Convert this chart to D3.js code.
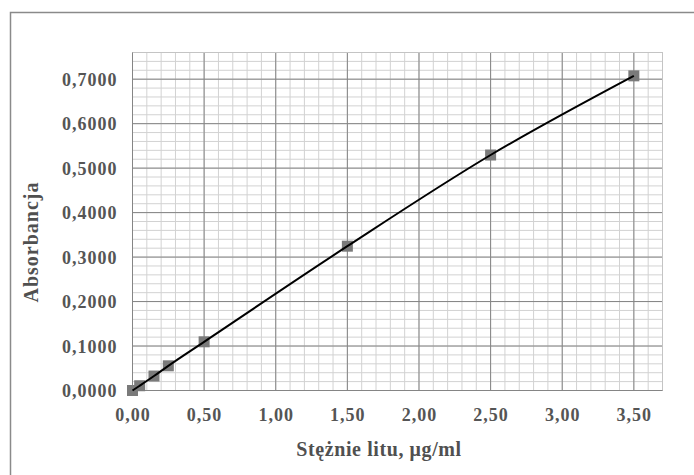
<!DOCTYPE html>
<html>
<head>
<meta charset="utf-8">
<script src="https://cdn.jsdelivr.net/npm/d3@7"></script>
<style>
  body { margin: 0; background: #fff; }
  text { font-family: "Liberation Serif", "Times New Roman", serif; }
</style>
</head>
<body>
<div id="chart"></div>
<script>
// Calibration points
var concentration = [0, 0.05, 0.15, 0.25, 0.5, 1.5, 2.5, 3.5];
var absorbance = [0, 0.0107, 0.0325, 0.0555, 0.1095, 0.3245, 0.5295, 0.7075];
var xTicks = [0, 0.5, 1, 1.5, 2, 2.5, 3, 3.5];
var yTicks = [0, 0.1, 0.2, 0.3, 0.4, 0.5, 0.6, 0.7];

var svgWidth = 694;
var svgHeight = 475;
var margin = { top: 52.5, left: 132.5, right: 31.5, bottom: 84.5 };
var width = svgWidth - margin.left - margin.right;
var height = svgHeight - margin.top - margin.bottom;

var svg = d3.select("#chart")
    .append("svg")
    .attr("width", svgWidth)
    .attr("height", svgHeight);

// outer frame
svg.append("rect")
    .attr("x", 10.5)
    .attr("y", 12.5)
    .attr("width", 720)
    .attr("height", 520)
    .attr("fill", "none")
    .attr("stroke", "#8a8a8a")
    .attr("stroke-width", 1.5);

var chartGroup = svg.append("g")
    .attr("transform", `translate(${margin.left}, ${margin.top})`);

var x = d3.scaleLinear().domain([0, 3.7]).range([0, width]);
var y = d3.scaleLinear().domain([0, 0.76]).range([height, 0]);

// minor grid
var minorX = d3.range(0, 38).map(i => i / 10);
var minorY = d3.range(0, 39).map(i => i / 50);
chartGroup.append("g").selectAll("line")
    .data(minorX)
    .enter().append("line")
    .attr("x1", d => x(d)).attr("x2", d => x(d))
    .attr("y1", 0).attr("y2", height)
    .attr("stroke", "#d2d2d2");
chartGroup.append("g").selectAll("line")
    .data(minorY)
    .enter().append("line")
    .attr("x1", 0).attr("x2", width)
    .attr("y1", d => y(d)).attr("y2", d => y(d))
    .attr("stroke", "#d2d2d2");

// major grid
chartGroup.append("g").selectAll("line")
    .data(xTicks)
    .enter().append("line")
    .attr("x1", d => x(d)).attr("x2", d => x(d))
    .attr("y1", 0).attr("y2", height)
    .attr("stroke", "#858585");
chartGroup.append("g").selectAll("line")
    .data(yTicks)
    .enter().append("line")
    .attr("x1", 0).attr("x2", width)
    .attr("y1", d => y(d)).attr("y2", d => y(d))
    .attr("stroke", "#858585");

// plot border
chartGroup.append("rect")
    .attr("width", width).attr("height", height)
    .attr("fill", "none").attr("stroke", "#c4c4c4");
chartGroup.append("line")
    .attr("x1", 0).attr("x2", 0).attr("y1", 0).attr("y2", height)
    .attr("stroke", "#858585");
chartGroup.append("line")
    .attr("x1", 0).attr("x2", width).attr("y1", height).attr("y2", height)
    .attr("stroke", "#858585");

// axes (labels only)
var fmtX = d => d3.format(".2f")(d).replace(".", ",");
var fmtY = d => d3.format(".4f")(d).replace(".", ",");

var bottomAxis = d3.axisBottom(x).tickValues(xTicks).tickFormat(fmtX).tickSize(0).tickPadding(18);
var leftAxis = d3.axisLeft(y).tickValues(yTicks).tickFormat(fmtY).tickSize(0).tickPadding(15);

var xAxis = chartGroup.append("g")
    .attr("transform", `translate(0, ${height})`)
    .call(bottomAxis);
var yAxis = chartGroup.append("g").call(leftAxis);
[xAxis, yAxis].forEach(function(a) {
    a.select(".domain").remove();
    a.selectAll("text")
        .attr("font-family", "Liberation Serif, serif")
        .attr("font-size", 18)
        .attr("font-weight", "bold")
        .attr("letter-spacing", 1)
        .attr("fill", "#555");
});
yAxis.selectAll("text").attr("dy", "0.35em");

// trend line
var line = d3.line()
    .x((d, i) => x(concentration[i]))
    .y(d => y(d))
    .curve(d3.curveMonotoneX);

chartGroup.append("g").selectAll("rect")
    .data(absorbance)
    .enter().append("rect")
    .attr("x", (d, i) => x(concentration[i]) - 5.5)
    .attr("y", d => y(d) - 5.5)
    .attr("width", 11)
    .attr("height", 11)
    .attr("fill", "#7a7a7a");

chartGroup.append("path")
    .datum(absorbance)
    .attr("d", line)
    .attr("fill", "none")
    .attr("stroke", "#000")
    .attr("stroke-width", 2);

// axis titles
svg.append("text")
    .attr("x", 379)
    .attr("y", 456)
    .attr("text-anchor", "middle")
    .attr("font-size", 20)
    .attr("font-weight", "bold")
    .attr("letter-spacing", 0.6)
    .attr("fill", "#505050")
    .text("Stężnie litu, μg/ml");

svg.append("text")
    .attr("transform", "translate(38, 242) rotate(-90)")
    .attr("text-anchor", "middle")
    .attr("font-size", 20)
    .attr("font-weight", "bold")
    .attr("letter-spacing", 1)
    .attr("fill", "#505050")
    .text("Absorbancja");
</script>
</body>
</html>
